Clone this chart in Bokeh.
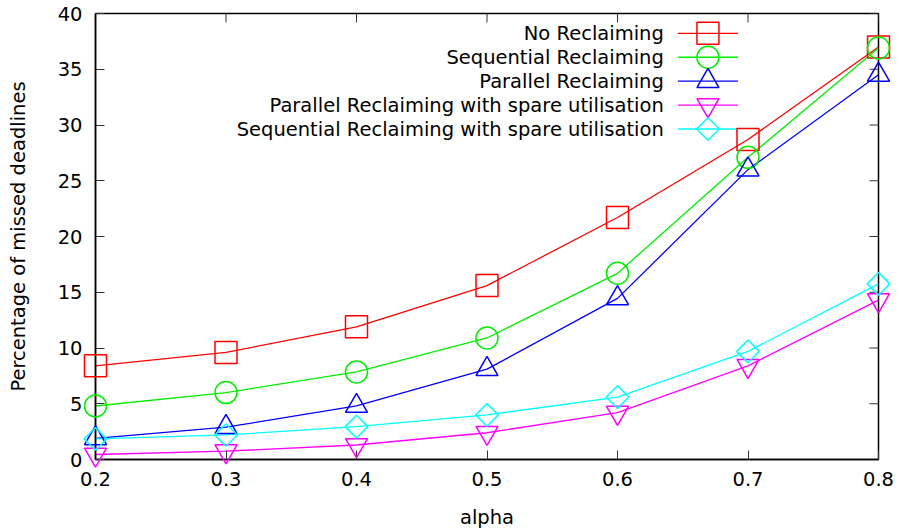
import math
from bokeh.plotting import figure
from bokeh.models import FixedTicker, Range1d, ColumnDataSource
from bokeh.core.properties import value
from bokeh.embed import file_html
from bokeh.resources import INLINE

# ---- data ----
alpha = [0.2, 0.3, 0.4, 0.5, 0.6, 0.7, 0.8]
no_reclaiming = [8.4, 9.6, 11.9, 15.6, 21.7, 28.7, 37.0]
sequential_reclaiming = [4.8, 6.0, 7.85, 10.9, 16.7, 27.1, 36.9]
parallel_reclaiming = [1.9, 2.9, 4.8, 8.1, 14.45, 26.0, 34.5]
parallel_spare = [0.45, 0.75, 1.3, 2.4, 4.2, 8.4, 14.3]
sequential_spare = [1.85, 2.2, 2.95, 4.0, 5.6, 9.7, 15.75]

series_names = [
    "No Reclaiming",
    "Sequential Reclaiming",
    "Parallel Reclaiming",
    "Parallel Reclaiming with spare utilisation",
    "Sequential Reclaiming with spare utilisation",
]
x_ticks = [0.2, 0.3, 0.4, 0.5, 0.6, 0.7, 0.8]
x_tick_labels = ["0.2", "0.3", "0.4", "0.5", "0.6", "0.7", "0.8"]
y_ticks = [0, 5, 10, 15, 20, 25, 30, 35, 40]

# ---- styles ----
FONT = "DejaVu Sans"
FS = "19.5px"
TICK_COLOR = "#333333"
colors = ["#ff0000", "#00ee00", "#0000ff", "#ff00ff", "#00ffff"]
markers = [("square", 22, 0.0), ("circle", 22, 0.0), ("triangle", 22, 0.0),
           ("inverted_triangle", 22, 0.0), ("square", 16, math.pi / 4)]
series_values = [no_reclaiming, sequential_reclaiming, parallel_reclaiming,
                 parallel_spare, sequential_spare]

X0, X1, Y0, Y1 = 0.2, 0.8, 0.0, 40.0

p = figure(width=899, height=531, output_backend="svg", toolbar_location=None,
           x_range=Range1d(X0, X1), y_range=Range1d(Y0, Y1),
           min_border_left=95, min_border_right=21, min_border_top=13,
           min_border_bottom=70,
           x_axis_label="alpha", y_axis_label="Percentage of missed deadlines")
p.grid.visible = False
p.outline_line_color = "black"
p.outline_line_width = 1.5
p.background_fill_color = "white"
p.border_fill_color = "white"

for ax in (p.xaxis[0], p.yaxis[0]):
    ax.major_tick_in = 9
    ax.major_tick_out = 0
    ax.minor_tick_line_color = None
    ax.major_tick_line_color = TICK_COLOR
    ax.axis_line_color = "black"
    ax.axis_line_width = 1.5
    ax.major_label_text_font = FONT
    ax.major_label_text_font_size = FS
    ax.major_label_text_color = "black"
    ax.axis_label_text_font = FONT
    ax.axis_label_text_font_size = FS
    ax.axis_label_text_font_style = "normal"
    ax.axis_label_text_color = "black"

p.xaxis[0].ticker = FixedTicker(ticks=x_ticks)
p.xaxis[0].major_label_overrides = {t: l for t, l in zip(x_ticks, x_tick_labels)}
p.xaxis[0].major_label_standoff = 12
p.xaxis[0].axis_label_standoff = 17
p.yaxis[0].ticker = FixedTicker(ticks=y_ticks)
p.yaxis[0].major_label_standoff = 13
p.yaxis[0].axis_label_standoff = 25

# mirrored inward ticks on the top and right borders (half of each dash is
# clipped away by the frame, leaving a 9px inward tick)
p.scatter(x=x_ticks, y=[Y1] * len(x_ticks), marker="dash", size=18, angle=math.pi / 2,
          line_color=TICK_COLOR, line_width=1)
p.scatter(x=[X1] * len(y_ticks), y=y_ticks, marker="dash", size=18,
          line_color=TICK_COLOR, line_width=1)

# ---- data series ----
for vals, col, (mk, sz, ang) in zip(series_values, colors, markers):
    src = ColumnDataSource(dict(x=alpha, y=vals))
    p.line("x", "y", source=src, line_color=col, line_width=1.3)
    r = p.scatter("x", "y", source=src, marker=mk, size=sz, angle=ang,
                  fill_color=None, line_color=col, line_width=1.5)
    r.level = "overlay"

# ---- legend (gnuplot style: text right-aligned, sample on the right) ----
leg_text_x = 0.6355
leg_line_x0, leg_line_x1, leg_mark_x = 0.6463, 0.6923, 0.6693
leg_y0, leg_dy = 38.22, 2.145
for i, (name, col, (mk, sz, ang)) in enumerate(zip(series_names, colors, markers)):
    yy = leg_y0 - i * leg_dy
    p.text(x=[leg_text_x], y=[yy], text=[name], text_font=value(FONT),
           text_font_size=value(FS), text_align="right", text_baseline="middle",
           text_color="black")
    p.segment(x0=[leg_line_x0], y0=[yy], x1=[leg_line_x1], y1=[yy],
              line_color=col, line_width=1.3)
    p.scatter(x=[leg_mark_x], y=[yy], marker=mk, size=sz, angle=ang,
              fill_color=None, line_color=col, line_width=1.5)

open("out.html", "w").write(file_html(p, INLINE))
